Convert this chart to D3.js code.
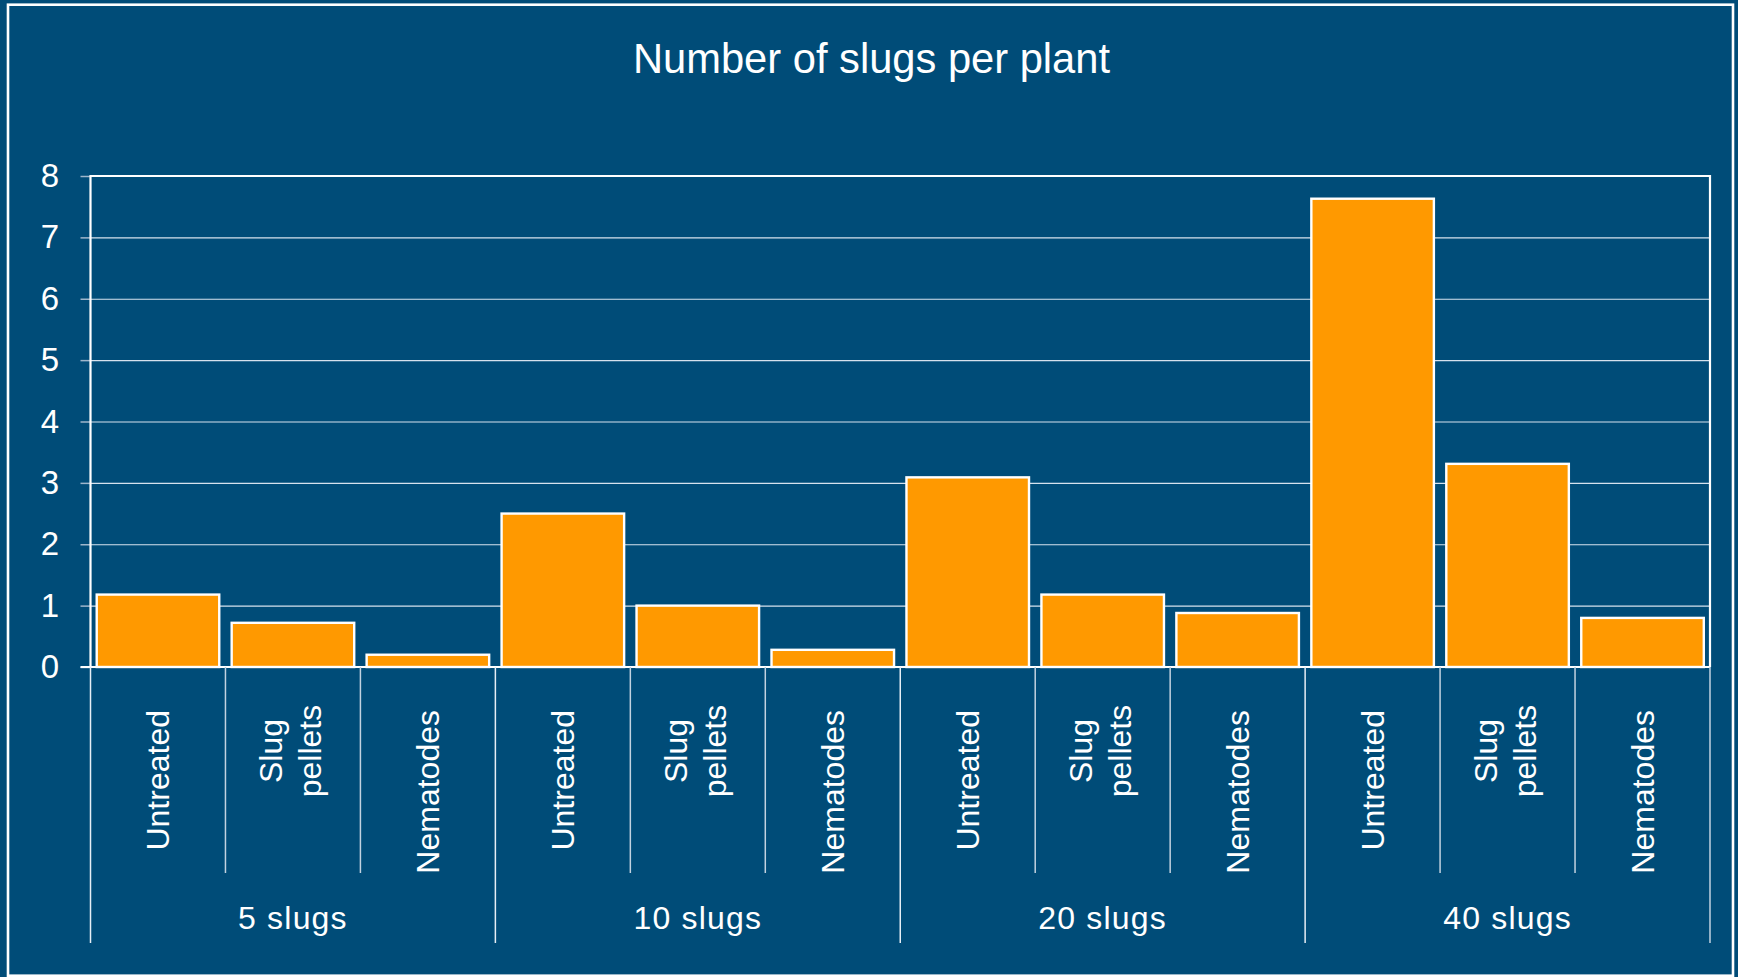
<!DOCTYPE html>
<html>
<head>
<meta charset="utf-8">
<script src="https://cdn.jsdelivr.net/npm/d3@7"></script>
<style>
  html, body { margin: 0; padding: 0; background: #004c78; }
  svg { display: block; }
  text { font-family: "Liberation Sans", Arial, sans-serif; fill: #ffffff; }
</style>
</head>
<body>
<svg id="chart" width="1738" height="977"></svg>
<script>
// ---- data ----
const title = "Number of slugs per plant";
const groups = ["5 slugs", "10 slugs", "20 slugs", "40 slugs"];
const treatments = ["Untreated", "Slug pellets", "Nematodes"];
const treatmentLines = [["Untreated"], ["Slug", "pellets"], ["Nematodes"]];
const values5 = [1.18, 0.72, 0.20];
const values10 = [2.50, 1.00, 0.28];
const values20 = [3.09, 1.18, 0.88];
const values40 = [7.63, 3.31, 0.80];
const yTicks = [0, 1, 2, 3, 4, 5, 6, 7, 8];

const seriesByGroup = [values5, values10, values20, values40];
const data = [];
groups.forEach((g, gi) => treatments.forEach((t, ti) => {
  data.push({ key: g + "|" + t, group: g, gi, ti, value: seriesByGroup[gi][ti] });
}));

// ---- layout ----
const W = 1738, H = 977;
const plot = { left: 90.5, right: 1710, top: 176, bottom: 667 };
const bg = "#004c78";

const svg = d3.select("#chart");
svg.append("rect").attr("x", 0).attr("y", 0).attr("width", W).attr("height", H).attr("fill", bg);
// outer frame
svg.append("rect").attr("x", 8).attr("y", 4.7).attr("width", 1725).attr("height", 971)
  .attr("fill", "none").attr("stroke", "#ffffff").attr("stroke-width", 2.6);

const x = d3.scaleBand().domain(data.map(d => d.key))
  .range([plot.left, plot.right]).paddingInner(0.092).paddingOuter(0.046);
const xStep = (plot.right - plot.left) / data.length;
const y = d3.scaleLinear().domain([0, 8]).range([plot.bottom, plot.top]);

// title
svg.append("text").attr("x", 871.5).attr("y", 73).attr("text-anchor", "middle")
  .attr("font-size", 43).attr("textLength", 477).attr("lengthAdjust", "spacingAndGlyphs")
  .text(title);

// gridlines
const grid = svg.append("g").attr("transform", `translate(${plot.left},0)`)
  .call(d3.axisLeft(y).tickValues(yTicks).tickSize(-(plot.right - plot.left)).tickFormat(""));
grid.select(".domain").remove();
grid.selectAll(".tick line").attr("stroke", "#d6e2ee").attr("stroke-width", 1.2);

// y axis ticks + labels
const yAxis = svg.append("g").attr("transform", `translate(${plot.left},0)`)
  .call(d3.axisLeft(y).tickValues(yTicks).tickSize(10).tickPadding(21.5).tickFormat(d3.format("d")));
yAxis.select(".domain").remove();
yAxis.selectAll(".tick line").attr("stroke", "#9fb6cb").attr("stroke-width", 1.5);
yAxis.selectAll(".tick text").attr("font-size", 33).attr("fill", "#ffffff")
  .attr("font-family", "Liberation Sans, Arial, sans-serif");

// bars
svg.append("g").selectAll("rect").data(data).join("rect")
  .attr("x", d => x(d.key))
  .attr("y", d => y(d.value))
  .attr("width", x.bandwidth())
  .attr("height", d => y(0) - y(d.value))
  .attr("fill", "#ff9900")
  .attr("stroke", "#ffffff").attr("stroke-width", 2.4);

// plot frame (left, top, right) and zero line
const frame = svg.append("g").attr("stroke", "#ffffff").attr("stroke-width", 2.2).attr("fill", "none");
frame.append("path").attr("d", `M${plot.left},${y(0)}V${plot.top}H${plot.right}V${y(0)}`);
frame.append("line").attr("x1", plot.left - 10).attr("x2", plot.right)
  .attr("y1", y(0)).attr("y2", y(0));

// separators below the axis
const sep = svg.append("g");
data.forEach((d, i) => {
  const left = plot.left + i * xStep;
  const isGroupEdge = d.ti === 0;
  sep.append("line").attr("x1", left).attr("x2", left)
    .attr("y1", y(0)).attr("y2", isGroupEdge ? 943 : 873)
    .attr("stroke", isGroupEdge ? "#e6eef5" : "#c2d2e0").attr("stroke-width", 1.5);
});
sep.append("line").attr("x1", plot.right).attr("x2", plot.right)
  .attr("y1", y(0)).attr("y2", 943).attr("stroke", "#c2d2e0").attr("stroke-width", 1.5);

// treatment labels (rotated)
const lab = svg.append("g").attr("font-size", 32);
data.forEach((d, i) => {
  const cx = plot.left + (i + 0.5) * xStep;
  const lines = treatmentLines[d.ti];
  if (lines.length === 1) {
    lab.append("text").attr("transform", `translate(${cx + 11.5},710) rotate(-90)`)
      .attr("text-anchor", "end").text(lines[0]);
  } else {
    lab.append("text").attr("transform", `translate(${cx - 10.5},751) rotate(-90)`)
      .attr("text-anchor", "middle").text(lines[0]);
    lab.append("text").attr("transform", `translate(${cx + 28.5},751) rotate(-90)`)
      .attr("text-anchor", "middle").text(lines[1]);
  }
});

// group labels
groups.forEach((g, gi) => {
  const gx = plot.left + (gi * 3 + 1.5) * xStep;
  svg.append("text").attr("x", gx).attr("y", 929).attr("text-anchor", "middle")
    .attr("font-size", 32).attr("letter-spacing", 1.2).text(g);
});
</script>
</body>
</html>
